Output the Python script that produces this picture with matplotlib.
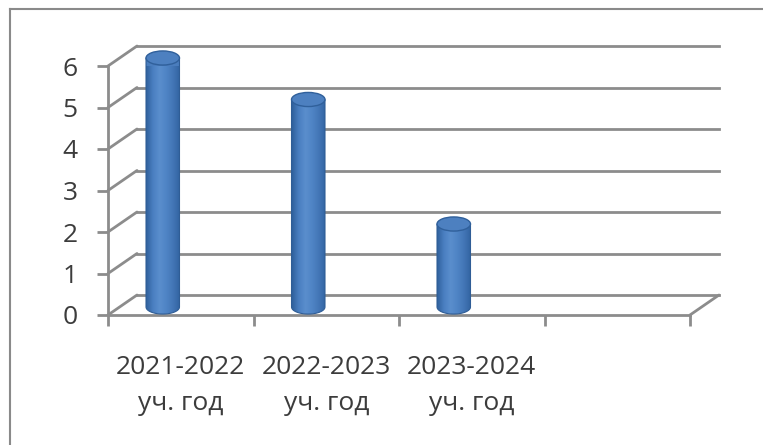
import numpy as np
import matplotlib
matplotlib.use('Agg')
import matplotlib.pyplot as plt
from matplotlib import transforms
from matplotlib.patches import Ellipse, Polygon, ConnectionPatch
from matplotlib.lines import Line2D
from matplotlib.colors import LinearSegmentedColormap

# data
categories = ['2021-2022\nуч. год', '2022-2023\nуч. год', '2023-2024\nуч. год', '']
values = [6, 5, 2]
yticks = [0, 1, 2, 3, 4, 5, 6]

plt.rcParams['font.family'] = ['Open Sans', 'DejaVu Sans']
grid_c = '#8c8c8c'
text_c = '#3c3c3c'

fig = plt.figure(figsize=(7.63, 4.45), dpi=100)
ax = fig.add_axes([108/763, 130/445, 582/763, 249/445])
ax.set_xlim(-0.5, 3.5)
ax.set_ylim(0, 6)

# outer chart border (only left and top visible)
bx, by = 9.5/763, 1 - 8.5/445
fig.add_artist(Line2D([bx, bx], [0, by], transform=fig.transFigure, color='#8a8a8a', lw=1.5))
fig.add_artist(Line2D([bx, 1], [by, by], transform=fig.transFigure, color='#8a8a8a', lw=1.5))

# back wall offset (3d look)
back = ax.transData + transforms.ScaledTranslation(0.29, 0.20, fig.dpi_scale_trans)
bar_tr = ax.transData + transforms.ScaledTranslation(-0.18, 0.08, fig.dpi_scale_trans)

for v in yticks:
    ax.plot([-0.5, 3.5], [v, v], transform=back, color=grid_c, lw=2, zorder=1, clip_on=False)
    cp = ConnectionPatch((-0.5, v), (-0.5, v), coordsA=ax.transData, coordsB=back,
                         color=grid_c, lw=2, zorder=1)
    fig.add_artist(cp)
fig.add_artist(ConnectionPatch((3.5, 0), (3.5, 0), coordsA=ax.transData, coordsB=back,
                               color=grid_c, lw=2, zorder=1))

# axes
for s in ['top', 'right']:
    ax.spines[s].set_visible(False)
for s in ['left', 'bottom']:
    ax.spines[s].set_color(grid_c)
    ax.spines[s].set_linewidth(2)
ax.patch.set_alpha(0)

ax.set_yticks(yticks)
ax.set_yticklabels([str(t) for t in yticks])
ax.tick_params(axis='y', length=8, width=2, color=grid_c, labelsize=19, labelcolor=text_c, pad=14)
ax.set_xticks([-0.5, 0.5, 1.5, 2.5, 3.5])
ax.set_xticklabels([])
ax.tick_params(axis='x', which='major', length=8, width=2, color=grid_c)
ax.set_xticks(range(len(categories)), minor=True)
ax.set_xticklabels(categories, minor=True, linespacing=1.55)
ax.tick_params(axis='x', which='minor', length=0, labelsize=19, labelcolor=text_c, pad=29)

# cylinders
w = 0.23
eh = 0.34
cmap = LinearSegmentedColormap.from_list('cyl', ['#30619d', '#4a7fc1', '#5a8ecd', '#4f84c5', '#4376b6', '#3264a2'])
grad = np.linspace(0, 1, 64).reshape(1, -1)
xs = np.arange(len(values))
bars = ax.bar(xs, values, w, transform=bar_tr, color='#4a7dbd', zorder=3, clip_on=False)
for xi, v in zip(xs, values):
    x0, x1 = xi - w/2, xi + w/2
    t = np.linspace(np.pi, 2*np.pi, 40)
    pts = [(x0, v)] + [(xi + w/2*np.cos(a), eh/2*np.sin(a)) for a in t] + [(x1, v)]
    poly = Polygon(pts, closed=True, transform=bar_tr, fc='none', ec='#2f5d96', lw=0.8,
                   zorder=5, clip_on=False)
    ax.add_patch(poly)
    im = ax.imshow(grad, extent=(x0, x1, -eh/2, v), aspect='auto', cmap=cmap,
                   transform=bar_tr, zorder=4, interpolation='bilinear')
    im.set_clip_path(poly)
    ax.add_patch(Ellipse((xi, v), w, eh, transform=bar_tr, fc='#4d80c0', ec='#30609b',
                         lw=1, zorder=6, clip_on=False))

ax.set_xlim(-0.5, 3.5)
ax.set_ylim(0, 6)

fig.savefig('out.png', dpi=100)
